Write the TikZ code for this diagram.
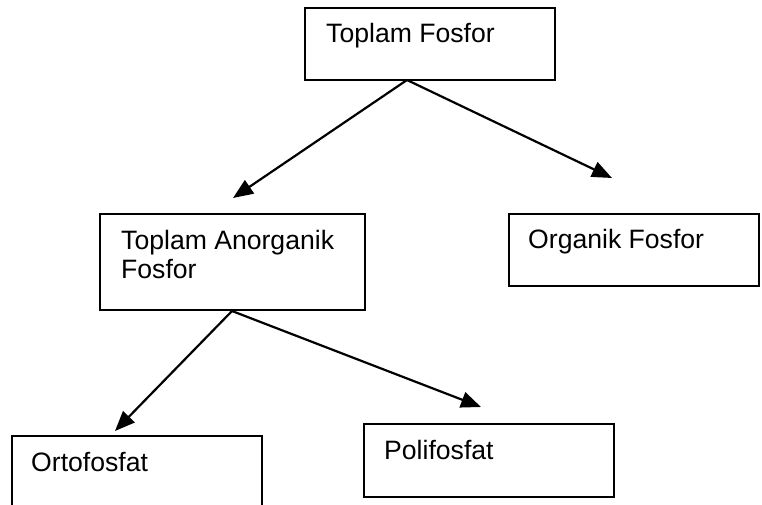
\documentclass[tikz,border=0pt]{standalone}
\usepackage{fontspec}
\setmainfont{Liberation Sans}
\usetikzlibrary{arrows.meta}
\tikzset{
  box/.style={draw=black, line width=2pt, rectangle, inner sep=0pt, anchor=north west},
  lbl/.style={anchor=base west, inner sep=0pt, font=\fontsize{26.6}{29}\selectfont},
  arr/.style={line width=2.2pt, -{Triangle[length=20pt,width=16pt]}}
}
\begin{document}
\begin{tikzpicture}[x=1pt,y=-1pt]
\clip (0,0) rectangle (762,505);
\fill[white] (0,0) rectangle (762,505);
% boxes
\node[box, minimum width=250pt, minimum height=72pt] (top) at (304,7) {};
\node[box, minimum width=265pt, minimum height=96pt] (anor) at (99,213) {};
\node[box, minimum width=250pt, minimum height=72pt] (org) at (508,213) {};
\node[box, minimum width=250pt, minimum height=100pt] (orto) at (11,435) {};
\node[box, minimum width=250pt, minimum height=73pt] (poli) at (363,423) {};
% texts
\node[lbl] (topt) at (326,43) {Toplam Fosfor};
\node[lbl] (anort) at (121,249) {\begin{tabular}[t]{@{}l@{}}Toplam Anorganik\\Fosfor\end{tabular}};
\node[lbl] (orgt) at (528,248) {Organik Fosfor};
\node[lbl] (ortot) at (31,471) {Ortofosfat};
\node[lbl] (polit) at (384,459) {Polifosfat};
% connector points
\coordinate (topj) at (407,80);
\coordinate (anorj) at (232,311);
\coordinate (t1) at (233,198);
\coordinate (t2) at (612,178);
\coordinate (t3) at (115,431);
\coordinate (t4) at (481,407);
\draw[arr] (topj) -- (t1);
\draw[arr] (topj) -- (t2);
\draw[arr] (anorj) -- (t3);
\draw[arr] (anorj) -- (t4);
\end{tikzpicture}
\end{document}
